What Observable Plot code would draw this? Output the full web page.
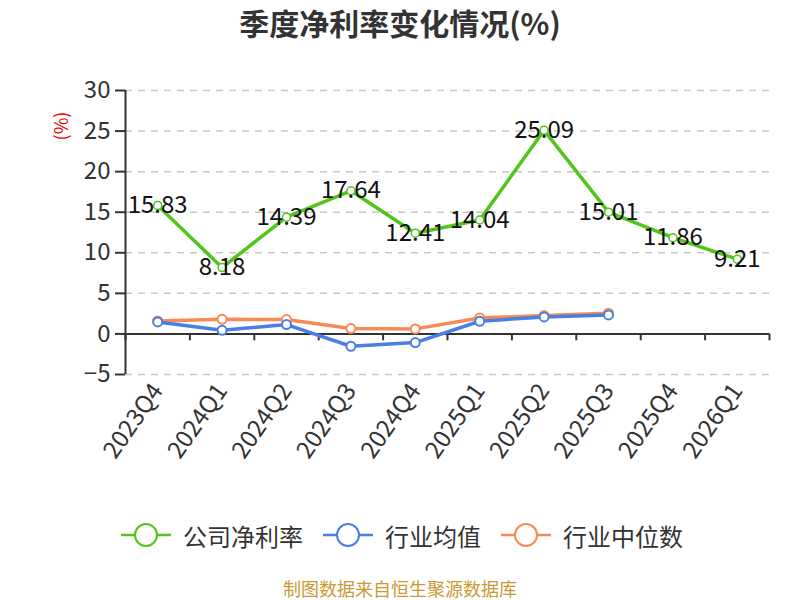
<!DOCTYPE html>
<html>
<head>
<meta charset="utf-8">
<script src="https://cdn.jsdelivr.net/npm/d3@7"></script>
<script src="https://cdn.jsdelivr.net/npm/@observablehq/plot@0.6"></script>
<style>
  body { margin: 0; background: #fff; font-family: "Noto Sans CJK SC", "Noto Sans", sans-serif; }
  #wrap { position: relative; width: 800px; height: 600px; overflow: hidden; }
  #title { position: absolute; left: 0; top: 0; width: 800px; height: 44px; line-height: 44px; text-align: center;
           font-size: 30px; font-weight: bold; color: #333; }
  #chart { position: absolute; left: 0; top: 50px; }
  #legend { position: absolute; left: 0; top: 515px; width: 800px; height: 40px; }
  #caption { position: absolute; left: 0; top: 577px; width: 800px; text-align: center; font-size: 18px; color: #c99a34; line-height: 22px; }
</style>
</head>
<body>
<div id="wrap">
  <div id="title">季度净利率变化情况(%)</div>
  <div id="chart"></div>
  <div id="legend"></div>
  <div id="caption">制图数据来自恒生聚源数据库</div>
</div>
<script>
const quarters = ["2023Q4","2024Q1","2024Q2","2024Q3","2024Q4","2025Q1","2025Q2","2025Q3","2025Q4","2026Q1"];
const companyNetMargin = [15.83, 8.18, 14.39, 17.64, 12.41, 14.04, 25.09, 15.01, 11.86, 9.21];
const industryMean = [1.48, 0.45, 1.15, -1.52, -1.07, 1.56, 2.10, 2.34];
const industryMedian = [1.60, 1.81, 1.77, 0.66, 0.62, 1.97, 2.26, 2.55];
const seriesNames = ["公司净利率", "行业均值", "行业中位数"];
const seriesColors = ["#52c41a", "#4a7ee6", "#fa8a55"];
const yTicks = [-5, 0, 5, 10, 15, 20, 25, 30];

const idx = quarters.map((q, i) => i);
const bounds = [-0.5, ...idx.map(i => i + 0.5)];
const comp = companyNetMargin.map((v, i) => ({i, v}));
const mean = industryMean.map((v, i) => ({i, v}));
const med = industryMedian.map((v, i) => ({i, v}));

const font = "Noto Sans CJK SC, Noto Sans, sans-serif";

const plot = Plot.plot({
  width: 800,
  height: 440,
  marginTop: 40,
  marginBottom: 116,
  marginLeft: 125,
  marginRight: 31,
  style: {fontFamily: font, background: "transparent"},
  x: {type: "linear", domain: [-0.5, quarters.length - 0.5]},
  y: {domain: [-5, 30]},
  marks: [
    Plot.gridY(yTicks.filter(t => t !== 0), {stroke: "#c8c8c8", strokeOpacity: 1, strokeWidth: 1.5, strokeDasharray: "7,6"}),
    Plot.axisY(yTicks, {tickSize: 10, tickPadding: 5, fontSize: 24, color: "#333", stroke: "#333", strokeWidth: 2, label: null}),
    Plot.ruleX([-0.5], {y1: -5, y2: 30, stroke: "#333", strokeWidth: 2}),
    Plot.ruleY([0], {stroke: "#333", strokeWidth: 2}),
    Plot.ruleX(bounds, {y1: 0, y2: -0.85, stroke: "#333", strokeWidth: 2}),
    Plot.axisX(idx, {tickFormat: i => quarters[i], tickRotate: -55, tickSize: 0, tickPadding: 12, fontSize: 24, color: "#333", label: null}),
    Plot.line(med, {x: "i", y: "v", stroke: seriesColors[2], strokeWidth: 3.5}),
    Plot.line(mean, {x: "i", y: "v", stroke: seriesColors[1], strokeWidth: 3.5}),
    Plot.dot(med, {x: "i", y: "v", r: 4.5, fill: "#fff", stroke: seriesColors[2], strokeWidth: 2}),
    Plot.dot(mean, {x: "i", y: "v", r: 4.5, fill: "#fff", stroke: seriesColors[1], strokeWidth: 2}),
    Plot.line(comp, {x: "i", y: "v", stroke: seriesColors[0], strokeWidth: 3.5}),
    Plot.dot(comp, {x: "i", y: "v", r: 4, fill: "#fff", stroke: seriesColors[0], strokeWidth: 1.5}),
    Plot.text(comp, {x: "i", y: "v", text: d => d.v.toFixed(2), fontSize: 24, fill: "#111", fontFamily: font})
  ]
});
document.getElementById("chart").appendChild(plot);

// y-axis unit label
const svgNS = "http://www.w3.org/2000/svg";
const ul = document.createElementNS(svgNS, "text");
ul.setAttribute("transform", "translate(63,76) rotate(-90)");
ul.setAttribute("text-anchor", "middle");
ul.setAttribute("dominant-baseline", "middle");
ul.setAttribute("fill", "#e00");
ul.setAttribute("font-size", "18");
ul.setAttribute("font-family", font);
ul.textContent = "(%)";
plot.appendChild(ul);

// legend
const legend = d3.select("#legend").append("svg").attr("width", 800).attr("height", 40);
const lx = [121, 323, 501];
seriesNames.forEach((name, k) => {
  const g = legend.append("g").attr("transform", `translate(${lx[k]},20)`);
  g.append("line").attr("x1", 0).attr("x2", 50).attr("y1", 0).attr("y2", 0).attr("stroke", seriesColors[k]).attr("stroke-width", 2.5);
  g.append("circle").attr("cx", 25).attr("cy", 0).attr("r", 11).attr("fill", "#fff").attr("stroke", seriesColors[k]).attr("stroke-width", 2);
  g.append("text").attr("x", 62).attr("y", 0).attr("dominant-baseline", "central").attr("font-size", 24)
    .attr("font-family", font).attr("fill", "#333").text(name);
});
</script>
</body>
</html>
